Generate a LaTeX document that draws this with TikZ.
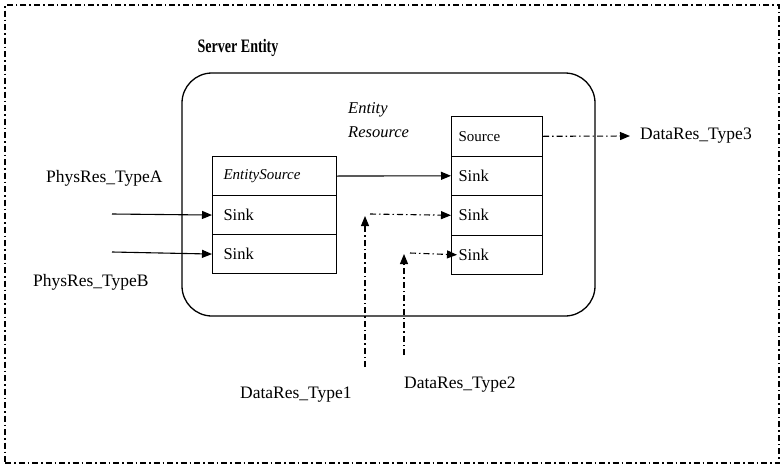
\documentclass[tikz,border=0pt]{standalone}
\usepackage{fontspec}
\setmainfont{Liberation Serif}
\newfontfamily\titlefont[FakeStretch=0.74]{Liberation Serif}
\usetikzlibrary{arrows.meta,calc}
\begin{document}
\begin{tikzpicture}[x=1pt,y=-1pt,
  lbl/.style={font=\fontsize{17.5}{20}\selectfont, inner sep=0pt},
  cellL/.style={draw, line width=1.1pt, minimum height=39pt, text width=102pt, inner xsep=11pt, inner ysep=0pt, align=left, anchor=north west, font=\fontsize{16.5}{19}\selectfont},
  cellR/.style={draw, line width=1.1pt, minimum height=39.5pt, text width=77pt, inner xsep=7pt, inner ysep=0pt, align=left, anchor=north west, font=\fontsize{16.5}{19}\selectfont},
  tip/.style={-{Triangle[length=10pt,width=8pt]}},
  solidarr/.style={tip, line width=1.1pt},
  dasharr/.style={tip, line width=1.1pt, dash pattern=on 6pt off 3pt on 1.5pt off 3pt},
  borderline/.style={draw, line width=1.1pt, dash pattern=on 6pt off 3pt on 1.5pt off 3pt}
]
\useasboundingbox (0,0) rectangle (782,466);
\node (border) [borderline, minimum width=774pt, minimum height=458pt, inner sep=0pt] at (392,234) {};
\node (title) [font=\titlefont\fontsize{19}{22}\selectfont\bfseries, inner sep=0pt] at (238,48) {Server Entity};
\node (entity) [draw, line width=1.3pt, rounded corners=30pt, minimum width=413pt, minimum height=243pt, inner sep=0pt] at (388.5,194.5) {};
\node (res) [lbl, anchor=west, align=left, font=\fontsize{16.5}{24}\selectfont\itshape] at (348,120) {Entity\\Resource};

% left box
\node (esrc) [cellL, font=\fontsize{15}{18}\selectfont\itshape] at (212,156) {EntitySource};
\node (sinkL1) [cellL] at (212,195) {Sink};
\node (sinkL2) [cellL] at (212,234) {Sink};

% right box
\node (srcR) [cellR, font=\fontsize{15}{18}\selectfont] at (451,116) {Source};
\node (sinkR1) [cellR] at (451,155.5) {Sink};
\node (sinkR2) [cellR] at (451,195) {Sink};
\node (sinkR3) [cellR] at (451,234.5) {Sink};

% labels
\node (physA) [lbl, anchor=west] at (46,178) {PhysRes\_TypeA};
\node (physB) [lbl, anchor=west] at (33,282) {PhysRes\_TypeB};
\node (dt1) [lbl, anchor=west] at (240,395) {DataRes\_Type1};
\node (dt2) [lbl, anchor=west] at (404,385) {DataRes\_Type2};
\node (dt3) [lbl, anchor=west] at (640,136) {DataRes\_Type3};

% free ends
\coordinate (pa) at (112,214);
\coordinate (pb) at (112,252);
\coordinate (d1b) at (365,367);
\coordinate (d1t) at (365,216);
\coordinate (d1h) at (370,214);
\coordinate (d2b) at (404,355);
\coordinate (d2t) at (404,254);
\coordinate (d2h) at (410,253);
\coordinate (d3e) at (630,136);

% connectors
\draw[solidarr] (pa) -- (sinkL1.west);
\draw[solidarr] (pb) -- (sinkL2.west);
\draw[solidarr] (esrc.east) -- (sinkR1.west);
\draw[dasharr] (srcR.east) -- (d3e);
\draw[dasharr] (d1b) -- (d1t);
\draw[dasharr] (d1h) -- (sinkR2.west);
\draw[dasharr] (d2b) -- (d2t);
\draw[dasharr] (d2h) -- ($(sinkR3.west)+(6,0)$);
\end{tikzpicture}
\end{document}
